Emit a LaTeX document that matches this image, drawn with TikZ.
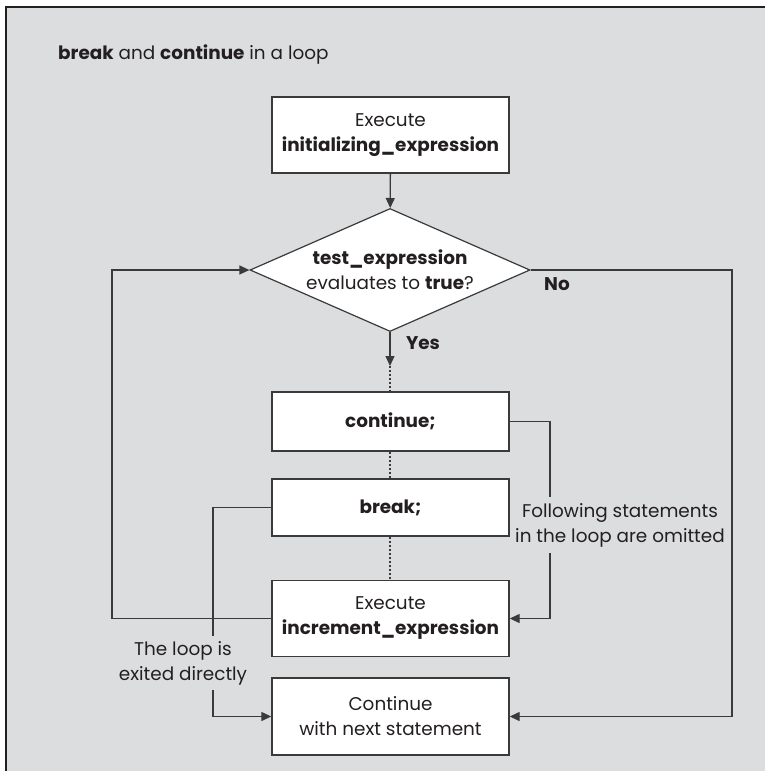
\documentclass[tikz,border=0pt]{standalone}
\usepackage{fontspec}
\setmainfont{Poppins}
\usetikzlibrary{arrows.meta,shapes.geometric}
\definecolor{panel}{HTML}{DCDDDF}
\definecolor{ink}{HTML}{231F20}
\definecolor{wire}{HTML}{3A3A3A}
\newcommand{\labelfont}{\fontsize{18.4}{25}\selectfont}
\begin{document}
\begin{tikzpicture}[x=1pt,y=-1pt,
  every node/.style={font=\labelfont, text=ink},
  stepbox/.style={draw=wire, line width=1.4pt, fill=white, minimum width=237pt, align=center, inner sep=0pt},
  decision/.style={diamond, shape aspect=2.28, draw=wire, line width=1.2pt, fill=white, minimum width=280pt, minimum height=123pt, align=center, inner sep=0pt},
  flow/.style={draw=wire, line width=1.3pt},
  arr/.style={flow, -{Triangle[length=10pt,width=9pt]}},
  dots/.style={draw=wire, line width=1.2pt, dash pattern=on 2pt off 2pt},
  note/.style={align=center, inner sep=0pt, fill=none}
]
% page and panel
\useasboundingbox (0,0) rectangle (765,771);
\fill[white] (0,0) rectangle (765,771);
\fill[panel] (6,7) rectangle (765,771);
\draw[ink, line width=2pt] (6,771) -- (6,7) -- (765,7);

\node[anchor=base west, inner sep=0pt] (title) at (58,59) {\textbf{break} and \textbf{continue} in a loop};

% flow steps
\node[stepbox, minimum height=76pt] (init) at (390.5,135) {Execute\\\textbf{initializing\_expression}};
\node[decision] (test) at (390,270) {\textbf{test\_expression}\\evaluates to \textbf{true}?};
\node[stepbox, minimum height=59pt] (cont) at (390.5,421.5) {\textbf{continue;}};
\node[stepbox, minimum height=57pt] (brk) at (390.5,507.5) {\textbf{break;}};
\node[stepbox, minimum height=76pt] (inc) at (390.5,618.5) {Execute\\\textbf{increment\_expression}};
\node[stepbox, minimum height=77pt] (next) at (390.5,716.5) {Continue\\with next statement};

% labels
\node[note, font=\labelfont\bfseries] (yes) at (423,343) {Yes};
\node[note, font=\labelfont\bfseries] (no) at (557,284) {No};
\node[note] (omit) at (620,525) {Following statements\\in the loop are omitted};
\node[note] (exit) at (183,663) {The loop is\\exited directly};

% connectors
\coordinate (afteryes) at (390,366);
\draw[arr] (init) -- (test);
\draw[arr] (test.south) -- (afteryes);
\draw[dots] (afteryes) -- (cont.north -| afteryes);
\draw[dots] (cont.south -| afteryes) -- (brk.north -| afteryes);
\draw[dots] (brk.south -| afteryes) -- (inc.north -| afteryes);

\coordinate (backx) at (112,0);
\draw[arr] (inc.west) -- (inc.west -| backx) |- (test.west);

\coordinate (nox) at (732,0);
\draw[arr] (test.east) -- (test.east -| nox) |- (next.east);

\coordinate (contx) at (550,0);
\draw[flow] (cont.east) -| ([yshift=6pt]contx |- omit.north);
\draw[arr] ([yshift=-6pt]contx |- omit.south) |- (inc.east);

\coordinate (brkx) at (213,0);
\draw[flow] (brk.west) -| ([yshift=5pt]brkx |- exit.north);
\draw[arr] ([yshift=-5pt]brkx |- exit.south) |- (next.west);
\end{tikzpicture}
\end{document}
